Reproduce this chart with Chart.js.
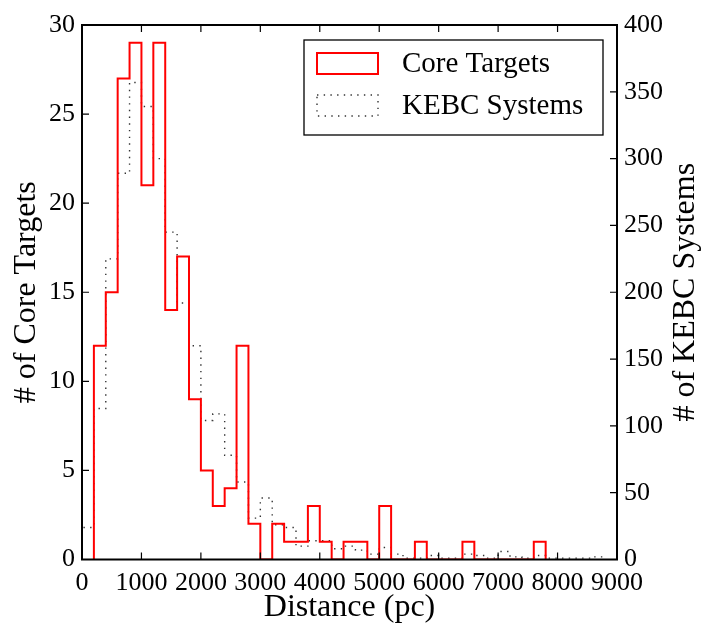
<!DOCTYPE html>
<html>
<head>
<meta charset="utf-8">
<script src="https://cdn.jsdelivr.net/npm/chart.js@4.4.1/dist/chart.umd.min.js"></script>
<style>
  html, body { margin: 0; padding: 0; background: #fff; }
  canvas { display: block; }
</style>
</head>
<body>
<canvas id="hist" width="702" height="627"></canvas>
<script>
// histogram bins, 200 pc wide
const binWidth = 200;

// Core Targets (left axis), first bin starts at 200 pc
const coreStart = 200;
const coreCounts = [12, 15, 27, 29, 21, 29, 14, 17, 9, 5, 3, 4, 12, 2, 0, 2, 1, 1, 3, 1,
                    0, 1, 1, 0, 3, 0, 0, 1, 0, 0, 0, 1, 0, 0, 0, 0, 0, 1];

// KEBC Systems (right axis), first bin starts at 0 pc
const kebcStart = 0;
const kebcCounts = [24, 113, 225, 289, 357, 339, 300, 245, 192, 160, 104, 109, 78, 58, 31, 46,
                    26, 24, 10, 14, 14, 8, 10, 7, 4, 9, 4, 1, 1, 3, 1, 1, 4, 3, 1, 6, 2, 1, 3,
                    1, 1, 1, 1, 2];

const xTicks = [0, 1000, 2000, 3000, 4000, 5000, 6000, 7000, 8000, 9000];
const leftTicks = [0, 5, 10, 15, 20, 25, 30];
const rightTicks = [0, 50, 100, 150, 200, 250, 300, 350, 400];

const serif = '"Liberation Serif", "Times New Roman", Times, serif';

// outline of a step histogram: (edge, count) pairs, dropping to 0 at both ends
function stepPoints(start, counts) {
  const pts = [{ x: start, y: 0 }];
  counts.forEach((c, i) => pts.push({ x: start + i * binWidth, y: c }));
  pts.push({ x: start + counts.length * binWidth, y: 0 });
  return pts;
}

// ticks inside the frame on all four sides, plus the frame itself
const frameAndTicks = {
  id: 'frameAndTicks',
  afterDatasetsDraw(chart) {
    const { ctx, chartArea: a, scales } = chart;
    const len = 7;
    ctx.save();
    ctx.strokeStyle = '#000';
    ctx.lineWidth = 1.2;
    ctx.beginPath();
    scales.x.ticks.forEach(t => {
      const px = scales.x.getPixelForValue(t.value);
      ctx.moveTo(px, a.bottom); ctx.lineTo(px, a.bottom - len);
      ctx.moveTo(px, a.top); ctx.lineTo(px, a.top + len);
    });
    scales.y.ticks.forEach(t => {
      const py = scales.y.getPixelForValue(t.value);
      ctx.moveTo(a.left, py); ctx.lineTo(a.left + len, py);
    });
    scales.y1.ticks.forEach(t => {
      const py = scales.y1.getPixelForValue(t.value);
      ctx.moveTo(a.right, py); ctx.lineTo(a.right - len, py);
    });
    ctx.stroke();
    ctx.lineWidth = 2;
    ctx.strokeRect(a.left, a.top, a.right - a.left, a.bottom - a.top);
    ctx.restore();
  }
};

// axis titles (right one reads bottom to top, like the left one)
const axisTitles = {
  id: 'axisTitles',
  afterDraw(chart) {
    const { ctx, chartArea: a } = chart;
    const midY = (a.top + a.bottom) / 2;
    ctx.save();
    ctx.fillStyle = '#000';
    ctx.font = '32px ' + serif;
    ctx.textAlign = 'center';
    ctx.textBaseline = 'middle';
    ctx.fillText('Distance (pc)', (a.left + a.right) / 2, 608);
    ctx.translate(27, midY);
    ctx.rotate(-Math.PI / 2);
    ctx.fillText('# of Core Targets', 0, 0);
    ctx.restore();
    ctx.save();
    ctx.fillStyle = '#000';
    ctx.font = '32px ' + serif;
    ctx.textAlign = 'center';
    ctx.textBaseline = 'middle';
    ctx.translate(686, midY);
    ctx.rotate(-Math.PI / 2);
    ctx.fillText('# of KEBC Systems', 0, 0);
    ctx.restore();
  }
};

// framed legend in the upper right corner of the plot
const boxLegend = {
  id: 'boxLegend',
  afterDraw(chart) {
    const { ctx, chartArea: a } = chart;
    const w = 299, h = 95;
    const x0 = a.right - 14 - w, y0 = a.top + 15;
    ctx.save();
    ctx.fillStyle = '#fff';
    ctx.fillRect(x0, y0, w, h);
    ctx.strokeStyle = '#000';
    ctx.lineWidth = 1.3;
    ctx.strokeRect(x0, y0, w, h);
    chart.data.datasets.forEach((ds, i) => {
      const rowY = y0 + 23 + i * 42;
      ctx.save();
      ctx.strokeStyle = ds.borderColor;
      ctx.lineWidth = ds.borderWidth;
      ctx.setLineDash(ds.borderDash || []);
      ctx.strokeRect(x0 + 13, rowY - 10, 61, 21);
      ctx.restore();
      ctx.fillStyle = '#000';
      ctx.font = '29px ' + serif;
      ctx.textBaseline = 'middle';
      ctx.fillText(ds.label, x0 + 98, rowY + 1);
    });
    ctx.restore();
  }
};

new Chart(document.getElementById('hist'), {
  type: 'line',
  data: {
    datasets: [{
      label: 'Core Targets',
      data: stepPoints(coreStart, coreCounts),
      yAxisID: 'y',
      stepped: true,
      borderColor: '#ff0000',
      borderWidth: 2,
      pointRadius: 0,
      fill: false,
      order: 0,
    }, {
      label: 'KEBC Systems',
      data: stepPoints(kebcStart, kebcCounts),
      yAxisID: 'y1',
      stepped: true,
      borderColor: '#333333',
      borderWidth: 1.4,
      borderDash: [1.4, 5.3],
      pointRadius: 0,
      fill: false,
      order: 1,
    }],
  },
  options: {
    responsive: false,
    animation: false,
    devicePixelRatio: 1,
    layout: { padding: { top: 25, left: 0, right: 0, bottom: 0 } },
    plugins: { legend: { display: false }, tooltip: { enabled: false } },
    font: { family: serif },
    scales: {
      x: {
        type: 'linear',
        min: 0, max: 9000,
        afterBuildTicks: s => { s.ticks = xTicks.map(v => ({ value: v })); },
        afterFit: s => { s.height = 67.5; },
        grid: { display: false, drawTicks: false },
        border: { display: false },
        ticks: {
          color: '#000', padding: 8,
          font: { family: serif, size: 26 },
          maxRotation: 0, autoSkip: false,
          callback: v => String(v),
        },
      },
      y: {
        position: 'left',
        min: 0, max: 30,
        afterBuildTicks: s => { s.ticks = leftTicks.map(v => ({ value: v })); },
        afterFit: s => { s.width = 82; },
        grid: { display: false, drawTicks: false },
        border: { display: false },
        ticks: { color: '#000', padding: 7, font: { family: serif, size: 26 }, callback: v => String(v) },
      },
      y1: {
        position: 'right',
        min: 0, max: 400,
        afterBuildTicks: s => { s.ticks = rightTicks.map(v => ({ value: v })); },
        afterFit: s => { s.width = 85; },
        grid: { display: false, drawTicks: false },
        border: { display: false },
        ticks: { color: '#000', padding: 7, font: { family: serif, size: 26 }, callback: v => String(v) },
      },
    },
  },
  plugins: [frameAndTicks, axisTitles, boxLegend],
});
</script>
</body>
</html>
